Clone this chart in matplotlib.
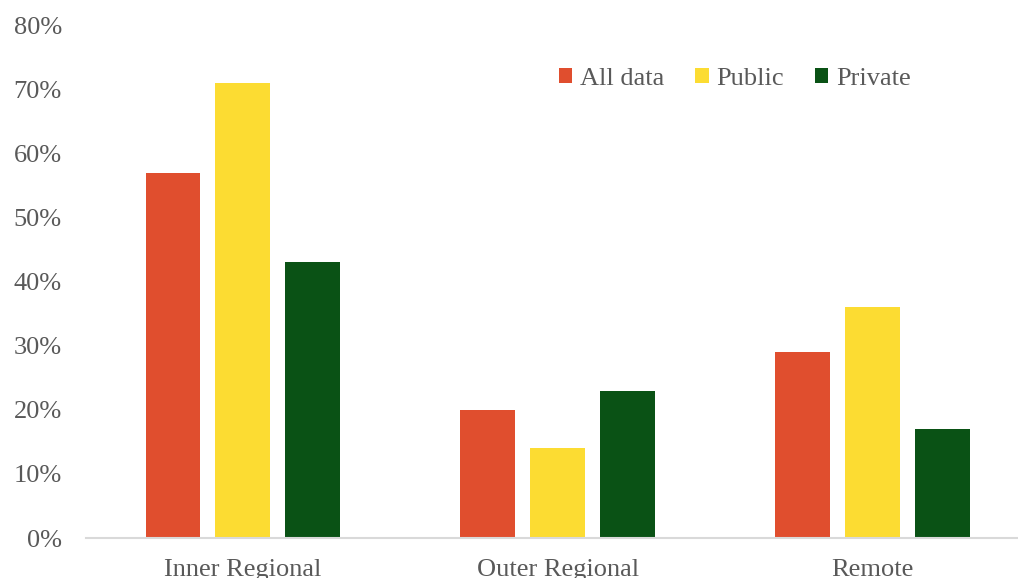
import numpy as np
import matplotlib
matplotlib.use("Agg")
import matplotlib.pyplot as plt
from matplotlib.ticker import FuncFormatter

categories = ["Inner Regional", "Outer Regional", "Remote"]
series_names = ["All data", "Public", "Private"]
all_data = [57, 20, 29]
public = [71, 14, 36]
private = [43, 23, 17]
yticks = [0, 10, 20, 30, 40, 50, 60, 70, 80]

colors = ["#E04E2E", "#FCDC32", "#0A5215"]
text_color = "#595959"

plt.rcParams["font.family"] = ["Liberation Serif", "DejaVu Serif"]

fig = plt.figure(figsize=(10.18, 5.78), dpi=100)
ax = fig.add_axes([0.084, 0.0692, 0.928, 0.8875])

x = np.arange(len(categories))
width = 0.1746
step = 0.2222
for i, (vals, name, col) in enumerate(zip([all_data, public, private], series_names, colors)):
    ax.bar(x + (i - 1) * step, vals, width, color=col, label=name, zorder=2)

ax.set_xlim(-0.5, 2.5)
ax.set_ylim(0, 80)
ax.set_yticks(yticks)
ax.yaxis.set_major_formatter(FuncFormatter(lambda v, p: f"{int(v)}%"))
ax.set_xticks(x)
ax.set_xticklabels(categories)

for s in ["top", "right", "left"]:
    ax.spines[s].set_visible(False)
ax.spines["bottom"].set_color("#D9D9D9")
ax.spines["bottom"].set_linewidth(1.5)

ax.tick_params(axis="y", length=0, pad=17, labelsize=19, labelcolor=text_color)
ax.tick_params(axis="x", length=0, pad=15, labelsize=19, labelcolor=text_color)

leg = fig.legend(loc="center", bbox_to_anchor=(0.722, 0.863), ncol=3, frameon=False,
                 fontsize=19, handlelength=0.5, handleheight=0.5, handletextpad=0.3,
                 columnspacing=1.18, labelcolor=text_color)

fig.savefig("out.png", dpi=100)
